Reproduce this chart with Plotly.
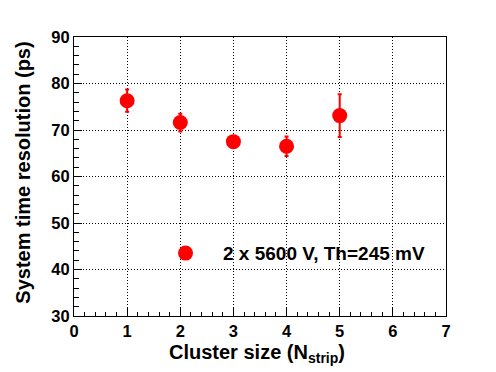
import plotly.graph_objects as go

cluster_size = [1, 2, 3, 4, 5]
resolution = [76.3, 71.6, 67.5, 66.5, 73.1]
resolution_err = [2.4, 1.9, 1.0, 2.1, 4.6]
series_name = "2 x 5600 V, Th=245 mV"
x_title = "Cluster size (N<sub>strip</sub>)"
y_title = "System time resolution (ps)"

FONT = "Liberation Sans, Arial, sans-serif"

fig = go.Figure()
fig.add_trace(go.Scatter(
    x=cluster_size, y=resolution, mode="markers", name=series_name,
    marker=dict(color="#ff0000", size=15, symbol="circle"),
    error_y=dict(type="data", array=resolution_err, color="#ff0000", thickness=2, width=2),
))

axis_common = dict(
    showline=True, linecolor="black", linewidth=1, mirror=True,
    ticks="inside", ticklen=8, tickcolor="black", tickwidth=1,
    showgrid=True, gridcolor="black", griddash="1px,2px", gridwidth=1,
    zeroline=False, automargin=False,
    tickfont=dict(family=FONT, size=16.5, color="black", weight="bold"),
)

fig.update_xaxes(
    range=[0, 7], dtick=1, tick0=0,
    minor=dict(dtick=0.2, ticks="inside", ticklen=4, tickcolor="black", showgrid=False),
    **axis_common,
)
fig.update_yaxes(
    range=[30, 90], dtick=10, tick0=30,
    minor=dict(dtick=2, ticks="inside", ticklen=5, tickcolor="black", showgrid=False),
    **axis_common,
)

title_font = dict(family=FONT, size=20, color="black", weight="bold")
fig.add_annotation(text=x_title, xref="paper", yref="paper", x=0.492, y=-0.083,
                   xanchor="center", yanchor="top", showarrow=False, font=title_font)
fig.add_annotation(text=y_title, xref="paper", yref="paper", x=-0.137, y=0.514,
                   xanchor="center", yanchor="middle", textangle=-90, showarrow=False, font=title_font)

fig.update_layout(
    width=496, height=372,
    margin=dict(l=74, r=50, t=37, b=56),
    plot_bgcolor="white", paper_bgcolor="white",
    showlegend=True,
    legend=dict(x=0.199, y=0.225, xanchor="left", yanchor="middle",
                bgcolor="rgba(0,0,0,0)", itemwidth=65,
                font=dict(family=FONT, size=19, color="black", weight="bold")),
)

fig.write_html("out.html", config={"displayModeBar": False},
               post_script="document.body.style.margin='0';document.body.style.padding='0';")
